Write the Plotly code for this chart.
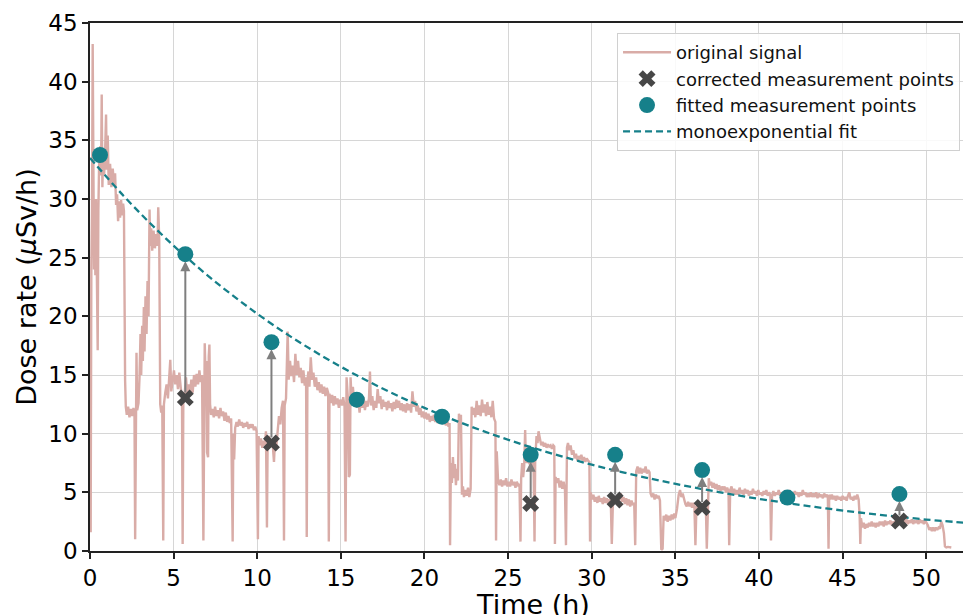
import plotly.graph_objects as go

# ---------------- data ----------------
signal_t = [0.00,0.04,0.08,0.12,0.16,0.20,0.24,0.28,0.32,0.36,0.40,0.46,0.50,0.55,0.62,0.66,0.70,0.74,0.78,0.84,0.90,0.96,1.00,1.06,1.12,1.20,1.28,1.36,1.44,1.50,1.56,1.62,1.68,1.74,1.80,1.86,1.92,1.98,
2.03,2.06,2.10,2.14,2.20,2.28,2.36,2.44,2.52,2.60,2.66,2.70,2.74,2.78,2.82,2.90,2.96,3.02,3.06,3.12,3.16,3.22,3.26,3.32,3.38,3.44,3.50,3.56,3.60,3.66,3.72,3.80,3.88,3.96,
4.04,4.08,4.14,4.20,4.26,4.32,4.38,4.42,4.50,4.58,4.66,4.74,4.80,4.86,4.94,5.02,5.10,5.18,5.26,5.34,5.42,5.50,5.54,5.58,5.66,5.74,5.82,5.90,5.98,6.06,6.14,6.22,6.30,6.38,6.46,6.54,6.62,6.70,6.78,6.82,6.86,6.90,6.96,
7.00,7.06,7.10,7.14,7.18,7.24,7.32,7.40,7.48,7.56,7.64,7.72,7.80,7.88,7.96,8.04,8.12,8.20,8.28,8.36,8.44,8.53,8.57,8.62,8.68,8.76,8.84,8.92,9.00,9.08,9.16,9.24,9.32,9.40,9.48,9.56,9.64,9.72,9.80,9.88,9.96,
10.04,10.08,10.14,10.22,10.30,10.38,10.46,10.52,10.58,10.62,10.70,10.78,10.86,10.94,11.00,11.06,11.14,11.22,11.30,11.38,11.46,11.54,11.60,11.64,11.72,11.82,11.88,11.96,
12.04,12.12,12.20,12.28,12.36,12.44,12.52,12.60,12.68,12.76,12.84,12.92,12.96,13.00,13.06,13.12,13.20,13.28,13.36,13.44,13.52,13.60,13.68,13.76,13.84,13.92,
14.00,14.08,14.16,14.24,14.28,14.32,14.40,14.48,14.56,14.64,14.72,14.80,14.88,14.96,15.06,15.14,15.22,15.28,15.34,15.42,15.48,15.54,15.58,15.64,15.72,15.80,15.88,15.96,
16.04,16.12,16.20,16.28,16.36,16.44,16.52,16.60,16.68,16.74,16.80,16.88,16.96,17.04,17.12,17.20,17.28,17.36,17.44,17.52,17.60,17.68,17.76,17.84,17.92,
18.00,18.08,18.16,18.24,18.32,18.40,18.48,18.56,18.64,18.72,18.80,18.88,18.96,19.04,19.12,19.20,19.28,19.36,19.44,19.52,19.60,19.68,19.76,19.84,19.92,
20.00,20.08,20.16,20.24,20.32,20.40,20.48,20.56,20.64,20.72,20.80,20.88,20.96,21.04,21.12,21.20,21.28,21.36,21.44,21.50,21.53,21.58,21.64,21.70,21.76,21.82,21.88,21.94,
22.00,22.06,22.12,22.18,22.24,22.30,22.36,22.44,22.52,22.60,22.68,22.76,22.82,22.88,22.96,23.04,23.12,23.20,23.28,23.36,23.44,23.52,23.60,23.68,23.76,23.84,23.92,
24.00,24.08,24.16,24.24,24.28,24.32,24.40,24.48,24.56,24.64,24.72,24.80,24.88,24.96,25.04,25.12,25.20,25.28,25.36,25.44,25.52,25.60,25.68,25.74,25.78,25.84,25.90,25.96,
26.02,26.06,26.12,26.20,26.28,26.36,26.44,26.52,26.58,26.62,26.70,26.76,26.82,26.90,26.98,27.06,27.14,27.22,27.30,27.38,27.46,27.54,27.62,27.70,27.76,27.80,27.84,27.92,
28.00,28.08,28.16,28.24,28.32,28.40,28.46,28.52,28.58,28.66,28.74,28.82,28.90,28.98,29.06,29.14,29.22,29.30,29.38,29.46,29.54,29.62,29.70,29.78,29.86,29.90,29.94,
30.02,30.10,30.18,30.26,30.34,30.42,30.50,30.58,30.66,30.74,30.82,30.90,30.98,31.06,31.14,31.20,31.26,31.34,31.42,31.50,31.58,31.66,31.74,31.82,31.90,31.98,
32.06,32.14,32.22,32.30,32.38,32.46,32.54,32.60,32.66,32.74,32.82,32.90,32.98,33.06,33.14,33.22,33.30,33.38,33.46,33.52,33.60,33.68,33.76,33.84,33.92,
34.00,34.08,34.16,34.24,34.30,34.38,34.46,34.54,34.62,34.70,34.78,34.86,34.94,35.00,35.10,35.20,35.28,35.36,35.44,35.52,35.60,35.68,35.76,35.84,35.92,
36.00,36.08,36.14,36.20,36.26,36.34,36.42,36.50,36.58,36.66,36.74,36.82,36.88,36.94,37.00,37.06,37.14,37.22,37.30,37.38,37.46,37.54,37.62,37.70,37.78,37.86,37.94,
38.02,38.10,38.18,38.22,38.28,38.36,38.44,38.52,38.60,38.68,38.76,38.84,38.92,39.00,39.08,39.16,39.24,39.32,39.40,39.48,39.56,39.64,39.72,39.80,39.88,39.96,
40.04,40.12,40.20,40.28,40.36,40.44,40.52,40.60,40.68,40.72,40.78,40.86,40.94,41.02,41.10,41.18,41.26,41.34,41.42,41.50,41.58,41.66,41.74,41.82,41.90,41.98,
42.06,42.14,42.22,42.30,42.38,42.46,42.54,42.62,42.70,42.78,42.86,42.94,43.02,43.10,43.18,43.26,43.34,43.42,43.50,43.58,43.66,43.74,43.82,43.90,43.98,
44.06,44.12,44.16,44.20,44.28,44.36,44.44,44.52,44.60,44.68,44.76,44.84,44.92,45.00,45.08,45.16,45.24,45.32,45.40,45.48,45.56,45.64,45.72,45.80,45.88,45.96,
46.02,46.06,46.10,46.18,46.26,46.34,46.42,46.50,46.58,46.66,46.74,46.82,46.90,46.98,47.06,47.14,47.22,47.30,47.38,47.46,47.54,47.62,47.70,47.78,47.86,47.94,
48.02,48.10,48.18,48.26,48.34,48.42,48.50,48.58,48.66,48.74,48.82,48.90,48.98,49.06,49.14,49.22,49.30,49.38,49.46,49.54,49.62,49.70,49.78,49.86,49.94,
50.02,50.10,50.18,50.26,50.34,50.42,50.50,50.58,50.66,50.74,50.82,50.90,50.98,51.06,51.12,51.20,51.30,51.40,51.50]

signal_v = [17.8,1.6,24,29,43.2,28,24,30,23.5,30,26,17.1,29,33.5,34.5,32,38.9,31.0,33.5,32.0,33.8,37.2,32.5,35.4,31.2,33.0,31.0,32.6,31.2,32.2,29.5,30.4,28.1,29.8,28.4,29.9,28.6,29.6,
29.0,20.0,14.5,12.3,11.6,12.3,11.4,12.1,11.5,12.2,11.6,1.0,11.8,16.9,12.0,12.6,14.8,18.5,15.0,19.2,16.2,20.8,17.0,21.7,18.5,23.0,20.0,29.1,26.0,27.5,25.6,27.3,25.8,27.0,
26.0,29.3,26.5,12.5,11.8,12.4,0.9,12.5,13.5,14.2,13.0,14.8,16.3,13.6,14.6,15.4,14.2,15.0,13.8,15.2,14.0,13.0,0.6,12.8,13.4,14.8,13.2,14.2,13.4,14.6,13.5,15.0,14.0,15.1,14.2,15.4,14.4,15.0,0.9,15.2,17.7,15.5,16.2,
8.4,8.0,16.6,17.6,12.5,11.6,12.1,11.4,12.3,11.5,12.0,11.3,12.2,11.5,11.9,11.1,11.8,11.0,11.5,10.9,11.3,0.8,10.0,7.8,10.5,11.0,10.6,11.2,10.7,11.0,10.5,10.9,10.6,11.0,10.4,10.8,10.5,10.8,10.3,10.6,10.2,
1.0,9.8,9.0,9.6,8.8,9.4,9.0,10.2,2.0,9.2,9.8,9.1,9.5,8.8,7.6,9.4,8.9,10.2,11.5,10.8,12.2,12.8,0.9,12.4,13.0,18.7,14.6,16.2,
14.9,15.8,14.4,16.8,15.0,16.2,14.8,15.6,14.3,15.4,14.1,14.8,1.2,14.5,15.3,14.0,16.5,14.6,15.2,14.0,14.8,13.7,14.4,13.5,14.2,13.4,
14.0,13.2,13.9,13.5,0.8,13.4,12.6,13.3,12.4,13.2,12.5,13.0,12.2,12.9,12.4,13.1,12.3,0.8,14.8,13.0,6.3,6.5,14.8,13.0,14.0,12.6,13.2,12.2,
12.9,11.8,13.0,12.2,13.1,12.0,12.8,12.3,13.0,15.3,12.4,13.2,12.0,12.8,12.2,13.8,12.6,13.2,12.1,12.9,12.3,12.7,12.0,12.8,12.2,
12.6,11.9,12.7,12.1,12.9,12.2,12.8,12.0,12.6,11.9,12.5,11.8,12.6,12.0,12.5,11.8,13.6,12.3,12.8,11.9,12.4,11.6,12.2,11.4,11.9,
11.3,11.8,11.2,11.7,11.0,11.5,11.1,11.6,11.0,11.4,10.9,11.3,10.9,11.3,10.8,11.2,10.7,11.1,10.6,10.9,0.5,7.5,5.8,8.0,6.2,7.4,5.6,7.0,
6.0,11.7,11.2,11.6,4.8,5.5,4.6,5.2,4.7,5.4,4.6,5.3,12.3,11.6,12.2,11.4,12.8,11.6,12.4,11.5,12.9,11.8,12.5,11.5,12.7,11.6,12.3,
11.4,12.8,11.3,11.0,0.9,8.5,6.0,5.6,6.1,5.5,6.0,5.6,6.2,5.5,5.9,5.5,6.1,5.6,5.9,5.4,5.9,5.6,5.7,0.8,6.2,7.5,6.3,7.2,
10.3,7.8,7.5,8.0,7.4,7.9,7.2,7.7,0.8,7.8,9.8,9.2,10.2,9.6,9.0,9.3,8.9,9.2,8.8,9.1,8.9,9.0,8.7,9.0,8.9,0.6,6.3,5.8,
6.2,5.4,6.0,5.3,5.9,5.2,0.5,8.8,9.2,8.6,9.0,8.2,8.6,7.9,8.3,7.7,8.1,7.8,8.2,7.7,8.0,7.6,7.9,7.7,7.6,0.8,5.0,
4.4,4.8,4.2,4.6,4.1,4.7,4.2,4.5,4.0,4.6,4.1,4.5,4.0,4.4,4.2,0.6,3.8,4.4,4.1,4.6,4.0,4.5,4.9,4.2,4.6,4.0,
4.5,3.9,4.4,3.8,4.3,3.9,4.1,0.5,6.8,7.2,6.6,7.1,6.6,7.0,6.7,7.2,6.6,6.9,6.7,4.9,4.6,4.9,4.4,4.8,4.5,
4.7,4.3,0.1,0.2,3.0,2.6,3.1,2.5,3.0,2.6,3.1,2.7,3.2,2.8,3.6,4.8,5.2,4.6,4.9,4.3,4.0,3.8,4.2,3.8,4.1,
3.7,4.1,3.8,0.5,3.7,4.0,3.6,4.0,3.7,4.0,3.7,4.0,0.2,5.0,6.2,5.6,5.9,5.4,5.8,5.3,5.7,5.2,5.6,5.1,5.5,5.2,5.5,
5.0,5.4,5.1,0.5,5.2,5.5,4.9,5.3,4.8,5.2,4.8,5.4,4.9,5.2,4.8,5.3,4.9,5.2,4.7,5.1,4.8,5.3,4.9,5.1,4.7,5.2,
4.8,5.0,4.7,5.1,4.8,5.2,4.7,5.0,4.8,0.9,4.7,5.1,4.7,5.0,4.8,5.2,4.7,5.0,4.8,5.1,4.7,5.0,4.8,5.2,4.8,5.0,
4.7,5.1,4.8,5.0,4.6,5.0,4.7,5.2,4.8,5.0,4.6,4.9,4.6,5.0,4.6,4.9,4.6,5.0,4.5,4.9,4.6,4.8,4.5,4.9,4.6,
4.8,4.5,0.2,4.8,4.4,4.8,4.4,4.7,4.3,4.7,4.4,4.6,4.3,4.7,4.4,4.6,4.3,4.7,5.0,4.4,4.6,4.3,4.7,4.4,4.8,4.4,
3.0,0.6,2.8,2.0,2.4,1.9,2.3,2.0,2.4,2.1,2.5,2.1,2.4,2.0,2.4,2.1,2.5,2.2,2.5,2.1,2.6,2.2,2.5,2.3,2.6,2.2,
2.5,2.3,2.6,2.3,2.6,2.4,2.7,2.3,2.6,2.4,2.7,2.3,2.6,2.4,2.7,2.3,2.6,2.4,2.6,2.3,2.7,2.4,2.6,2.3,2.6,
2.4,2.2,1.8,2.0,1.7,2.0,1.7,2.0,1.8,2.0,1.9,2.5,2.2,1.5,0.4,0.3,0.35,0.3,0.3]

meas_t = [0.6, 5.7, 10.85, 15.95, 21.05, 26.35, 31.4, 36.6, 41.7, 48.4]
fitted_v = [33.75, 25.3, 17.8, 12.9, 11.45, 8.2, 8.2, 6.9, 4.55, 4.85]

corr_t = [5.7, 10.85, 26.35, 31.4, 36.6, 48.4]
corr_v = [13.05, 9.2, 4.05, 4.35, 3.7, 2.55]

fit_t = [0, 2, 4, 6, 8, 10, 12, 14, 16, 18, 20, 22, 24, 26, 28, 30, 32, 34, 36, 38, 40, 42, 44, 46, 48, 50, 52.3]
fit_v = [33.5, 30.28, 27.37, 24.74, 22.37, 20.22, 18.27, 16.52, 14.93, 13.50, 12.20, 11.03, 9.97, 9.01,
         8.15, 7.36, 6.66, 6.02, 5.44, 4.92, 4.44, 4.02, 3.63, 3.28, 2.97, 2.68, 2.41]

x_ticks = [0, 5, 10, 15, 20, 25, 30, 35, 40, 45, 50]
y_ticks = [0, 5, 10, 15, 20, 25, 30, 35, 40, 45]

# ---------------- styles ----------------
FONT = "DejaVu Sans"
SIG_COLOR = "#d9aca7"
TEAL = "#16808a"
DARK = "#474747"
ARROW = "#7f7f7f"

fig = go.Figure()

fig.add_trace(go.Scatter(x=signal_t, y=signal_v, mode="lines", name="original signal",
                         line=dict(color=SIG_COLOR, width=2.4), legendgroup="a", legendrank=1))
fig.add_trace(go.Scatter(x=fit_t, y=fit_v, mode="lines", name="monoexponential fit",
                         line=dict(color=TEAL, width=2.3, dash="7px,4px", shape="spline"),
                         legendgroup="d", legendrank=4))
fig.add_trace(go.Scatter(x=corr_t, y=corr_v, mode="markers", name="corrected measurement points",
                         marker=dict(symbol="x", size=15, color=DARK, line=dict(width=0)),
                         legendgroup="b", legendrank=2))
fig.add_trace(go.Scatter(x=meas_t, y=fitted_v, mode="markers", name="fitted measurement points",
                         marker=dict(symbol="circle", size=16, color=TEAL, line=dict(width=0)),
                         legendgroup="c", legendrank=3))

# arrows from corrected to fitted points
for t in corr_t:
    i = meas_t.index(t)
    j = corr_t.index(t)
    fig.add_annotation(x=t, y=fitted_v[i], ax=t, ay=corr_v[j], xref="x", yref="y",
                       axref="x", ayref="y", showarrow=True, arrowhead=2, arrowsize=1,
                       arrowwidth=2, arrowcolor=ARROW, standoff=7, startstandoff=4, text="")

# x-axis title placed as in the reference (partly below the bottom edge)
fig.add_annotation(text="Time (h)", xref="paper", yref="paper", x=0.507, y=-0.068,
                   xanchor="center", yanchor="top", showarrow=False,
                   font=dict(family=FONT, size=27, color="#000"))

fig.update_layout(
    width=964, height=615,
    margin=dict(l=90, r=1, t=23, b=64, autoexpand=False),
    paper_bgcolor="white", plot_bgcolor="white",
    font=dict(family=FONT, color="#000000"),
    showlegend=True,
    legend=dict(x=0.9966, y=0.981, xanchor="right", yanchor="top",
                bgcolor="rgba(255,255,255,0.85)", bordercolor="#d0d0d0", borderwidth=1,
                font=dict(family=FONT, size=18, color="#111"), tracegroupgap=4,
                itemwidth=48, traceorder="normal"),
)

fig.update_xaxes(range=[0, 52.2], tickvals=x_ticks, ticks="outside", ticklen=6, tickwidth=1.5,
                 tickcolor="#222", showline=True, linecolor="#222", linewidth=1.5, mirror=True,
                 showgrid=True, gridcolor="#d6d6d6", gridwidth=1.3, zeroline=False, automargin=False,
                 tickfont=dict(family=FONT, size=23))
fig.update_yaxes(range=[0, 45], tickvals=y_ticks, ticks="outside", ticklen=6, tickwidth=1.5,
                 tickcolor="#222", showline=True, linecolor="#222", linewidth=1.5,
                 showgrid=True, gridcolor="#d6d6d6", gridwidth=1.3, zeroline=False, automargin=False,
                 tickfont=dict(family=FONT, size=23),
                 title=dict(text="Dose rate (<i>μ</i>Sv/h)", font=dict(family=FONT, size=27), standoff=4))

fig.write_html("out.html", config={"displayModeBar": False},
               post_script="document.body.style.margin='0px';document.body.style.padding='0px';document.body.style.overflow='hidden';")
